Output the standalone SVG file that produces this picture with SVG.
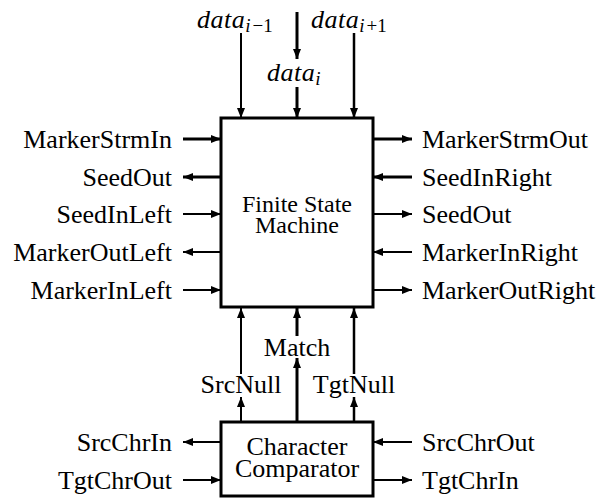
<svg xmlns="http://www.w3.org/2000/svg" width="602" height="498" viewBox="0 0 602 498">
  <defs>
    <style>
      .box { fill: #fff; stroke: #000; stroke-width: 3; }
      .w { fill: none; stroke: #000; marker-end: url(#ah); }
      .t2 { stroke-width: 2; }
      .t25 { stroke-width: 2.5; }
      .t3 { stroke-width: 3; }
      text { font-family: "Liberation Serif", "Times New Roman", serif; font-size: 26px; fill: #000; }
      .l { text-anchor: end; }
      .c { text-anchor: middle; }
      .fsm-text { font-size: 24px; }
      .m { font-style: italic; letter-spacing: 0.5px; }
      .sub { font-size: 19px; letter-spacing: 0; }
      .up { font-style: normal; }
    </style>
    <marker id="ah" markerWidth="11" markerHeight="9" refX="10" refY="4" orient="auto" markerUnits="userSpaceOnUse">
      <path d="M0,0 L10,4 L0,8 Z" fill="#000"/>
    </marker>
  </defs>

  <!-- connectors -->
  <g id="connectors">
    <!-- data inputs from above -->
    <line class="w t2" x1="241" y1="33" x2="241" y2="118"/>
    <line class="w t3" x1="297" y1="12" x2="297" y2="59"/>
    <line class="w t3" x1="297" y1="87" x2="297" y2="118"/>
    <line class="w t25" x1="354" y1="33" x2="354" y2="118"/>

    <!-- left side of the state machine -->
    <line class="w t3" x1="183" y1="139" x2="221" y2="139"/>
    <line class="w t3" x1="220" y1="177" x2="183" y2="177"/>
    <line class="w t2" x1="183" y1="214" x2="221" y2="214"/>
    <line class="w t2" x1="220" y1="252" x2="183" y2="252"/>
    <line class="w t2" x1="183" y1="290" x2="221" y2="290"/>

    <!-- right side of the state machine -->
    <line class="w t3" x1="374" y1="139" x2="412" y2="139"/>
    <line class="w t3" x1="412" y1="177" x2="373" y2="177"/>
    <line class="w t2" x1="374" y1="214" x2="412" y2="214"/>
    <line class="w t2" x1="412" y1="252" x2="373" y2="252"/>
    <line class="w t2" x1="374" y1="290" x2="412" y2="290"/>

    <!-- comparator outputs up to the state machine -->
    <line class="w t2" x1="241" y1="421" x2="241" y2="397"/>
    <line class="w t2" x1="241" y1="374" x2="241" y2="308"/>
    <line class="w t3" x1="297" y1="421" x2="297" y2="358"/>
    <line class="w t3" x1="297" y1="336" x2="297" y2="308"/>
    <line class="w t25" x1="354" y1="421" x2="354" y2="397"/>
    <line class="w t25" x1="354" y1="374" x2="354" y2="308"/>

    <!-- comparator side ports -->
    <line class="w t2" x1="220" y1="442" x2="183" y2="442"/>
    <line class="w t2" x1="183" y1="480" x2="221" y2="480"/>
    <line class="w t2" x1="412" y1="442" x2="373" y2="442"/>
    <line class="w t2" x1="374" y1="480" x2="412" y2="480"/>
  </g>

  <!-- finite state machine -->
  <g id="fsm">
    <rect class="box" x="221" y="118" width="152" height="189"/>
    <text class="c fsm-text" x="297" y="212">Finite State</text>
    <text class="c fsm-text" x="297" y="233">Machine</text>
  </g>

  <!-- character comparator -->
  <g id="comparator">
    <rect class="box" x="221" y="422" width="152" height="74"/>
    <text class="c" x="297" y="455">Character</text>
    <text class="c" x="297" y="477">Comparator</text>
  </g>

  <!-- data labels -->
  <g id="data-labels">
    <text class="m" x="197" y="28">data<tspan class="sub" dy="4">i<tspan class="up" dx="2">−1</tspan></tspan></text>
    <text class="m" x="267" y="81">data<tspan class="sub" dy="4">i</tspan></text>
    <text class="m" x="311" y="28">data<tspan class="sub" dy="4">i<tspan class="up" dx="2">+1</tspan></tspan></text>
  </g>

  <!-- left port labels -->
  <g id="left-labels">
    <text class="l" x="172" y="148">MarkerStrmIn</text>
    <text class="l" x="172" y="186">SeedOut</text>
    <text class="l" x="172" y="223">SeedInLeft</text>
    <text class="l" x="172" y="261">MarkerOutLeft</text>
    <text class="l" x="172" y="299">MarkerInLeft</text>
    <text class="l" x="172" y="451">SrcChrIn</text>
    <text class="l" x="172" y="489">TgtChrOut</text>
  </g>

  <!-- right port labels -->
  <g id="right-labels">
    <text x="422" y="148">MarkerStrmOut</text>
    <text x="422" y="186">SeedInRight</text>
    <text x="422" y="223">SeedOut</text>
    <text x="422" y="261">MarkerInRight</text>
    <text x="422" y="299">MarkerOutRight</text>
    <text x="422" y="451">SrcChrOut</text>
    <text x="422" y="489">TgtChrIn</text>
  </g>

  <!-- signal labels between the blocks -->
  <g id="mid-labels">
    <text class="c" x="297" y="356">Match</text>
    <text class="c" x="241" y="393">SrcNull</text>
    <text class="c" x="354" y="393">TgtNull</text>
  </g>
</svg>
